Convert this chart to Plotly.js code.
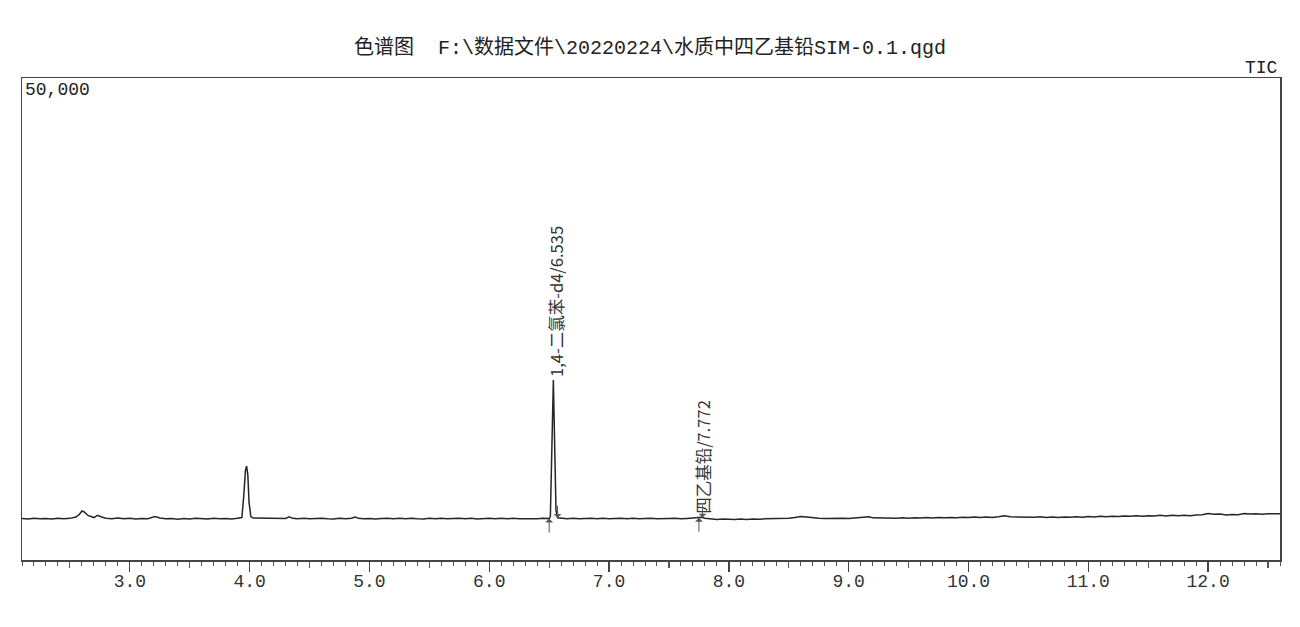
<!DOCTYPE html>
<html>
<head>
<meta charset="utf-8">
<script src="https://cdn.plot.ly/plotly-3.0.1.min.js"></script>
<style>html,body{margin:0;padding:0;background:#fff;}#chart{width:1300px;height:627px;}</style>
</head>
<body>
<div id="chart"></div>
<script>
// Retention time (min)
const times = [
2.10,2.15,2.20,2.25,2.30,2.35,2.40,2.45,2.50,2.55,2.58,2.60,2.62,2.65,2.70,2.73,2.76,2.80,2.85,2.90,2.95,
3.00,3.05,3.10,3.15,3.21,3.25,3.30,3.35,3.40,3.45,3.50,3.55,3.60,3.65,3.70,3.75,3.80,3.85,3.90,3.935,3.95,3.965,3.975,3.985,3.995,4.01,4.03,
4.06,4.10,4.15,4.20,4.25,4.30,4.33,4.36,4.40,4.45,4.50,4.55,4.60,4.65,4.70,4.75,4.80,4.85,4.88,4.91,4.95,
5.00,5.05,5.10,5.15,5.20,5.25,5.30,5.35,5.40,5.45,5.50,5.55,5.60,5.65,5.70,5.75,5.80,5.85,5.90,5.95,
6.00,6.05,6.10,6.15,6.20,6.25,6.30,6.35,6.40,6.45,6.50,6.51,6.522,6.535,6.545,6.557,6.57,6.60,6.65,6.70,6.75,6.80,6.85,6.90,6.95,
7.00,7.05,7.10,7.15,7.20,7.25,7.30,7.35,7.40,7.45,7.50,7.55,7.60,7.65,7.70,7.75,7.772,7.80,7.85,7.90,7.95,
8.00,8.05,8.10,8.15,8.20,8.25,8.30,8.35,8.40,8.45,8.50,8.55,8.60,8.65,8.70,8.75,8.80,8.85,8.90,8.95,
9.00,9.05,9.10,9.15,9.17,9.20,9.25,9.30,9.35,9.40,9.45,9.50,9.55,9.60,9.65,9.70,9.75,9.80,9.85,9.90,9.95,
10.00,10.05,10.10,10.15,10.20,10.25,10.30,10.35,10.40,10.45,10.50,10.55,10.60,10.65,10.70,10.75,10.80,10.85,10.90,10.95,
11.00,11.05,11.10,11.15,11.20,11.25,11.30,11.35,11.40,11.45,11.50,11.55,11.60,11.65,11.70,11.75,11.80,11.85,11.90,11.95,
12.00,12.05,12.10,12.15,12.20,12.25,12.30,12.35,12.40,12.45,12.50,12.55,12.60
];
// TIC intensity
const intensity = [
4310,4260,4340,4280,4310,4250,4330,4280,4320,4450,4750,5080,4980,4620,4400,4640,4480,4330,4290,4350,4270,
4320,4260,4310,4280,4500,4360,4290,4300,4240,4310,4260,4320,4280,4250,4330,4270,4310,4260,4340,4400,6500,9300,9750,8800,6000,4500,4350,
4340,4290,4330,4270,4310,4300,4480,4320,4280,4320,4270,4310,4330,4280,4260,4320,4280,4340,4450,4320,4270,
4310,4250,4300,4330,4270,4320,4280,4340,4290,4260,4320,4280,4330,4270,4310,4340,4280,4320,4260,4310,
4330,4270,4320,4280,4340,4290,4270,4320,4280,4330,4300,4500,11500,18670,12500,5200,4380,4330,4280,4320,4270,4310,4340,4280,4320,
4270,4310,4330,4280,4320,4270,4310,4340,4280,4260,4310,4330,4270,4310,4340,4380,4430,4330,4250,4210,4260,
4220,4200,4250,4210,4260,4220,4270,4280,4260,4310,4340,4420,4520,4450,4360,4320,4300,4330,4290,4340,
4300,4340,4360,4400,4480,4370,4360,4320,4370,4330,4380,4340,4390,4350,4400,4360,4410,4370,4420,4390,4440,
4400,4450,4410,4460,4420,4490,4580,4480,4460,4420,4470,4430,4480,4420,4460,4410,4470,4440,4490,4430,
4510,4470,4540,4490,4550,4510,4570,4530,4590,4540,4600,4560,4630,4570,4640,4590,4650,4600,4670,4700,
4820,4740,4760,4680,4720,4700,4810,4760,4790,4740,4800,4760,4790
];
// Identified peaks
const peakLabels = ['1,4-二氯苯-d4/6.535', '四乙基铅/7.772'];
const peakRT = [6.535, 7.772];
const peakStart = [6.50, 7.75];
const peakEnd = [6.57, 7.78];

const FONT = '"Liberation Mono", "Noto Sans CJK SC", monospace';

function valueAt(t) {
  for (let i = 0; i < times.length - 1; i++) {
    if (t >= times[i] && t <= times[i + 1]) {
      const f = (t - times[i]) / (times[i + 1] - times[i]);
      return intensity[i] + f * (intensity[i + 1] - intensity[i]);
    }
  }
  return intensity[intensity.length - 1];
}

const traces = [
  {x: times, y: intensity, type: 'scatter', mode: 'lines',
   line: {color: '#262626', width: 1.5}, hoverinfo: 'skip', showlegend: false},
  {x: times, y: intensity, type: 'scatter', mode: 'lines', xaxis: 'x2',
   line: {color: 'rgba(0,0,0,0)', width: 0}, hoverinfo: 'skip', showlegend: false}
];

const annotations = [
  {xref: 'paper', yref: 'paper', x: 0, y: 1, xanchor: 'left', yanchor: 'top',
   text: '50,000', showarrow: false, xshift: 1, yshift: 0,
   font: {family: FONT, size: 18, color: '#222'}},
  {xref: 'paper', yref: 'paper', x: 1, y: 1, xanchor: 'right', yanchor: 'bottom',
   text: 'TIC', showarrow: false, yshift: -2,
   font: {family: FONT, size: 18, color: '#222'}}
];

peakLabels.forEach((lab, i) => {
  const rt = peakRT[i];
  annotations.push({
    x: rt, y: valueAt(rt), xref: 'x', yref: 'y', text: lab, textangle: -90,
    showarrow: false, xanchor: 'center', yanchor: 'bottom', xshift: 2, yshift: 1,
    font: {family: '"Liberation Sans Narrow", "Noto Sans CJK SC", sans-serif', size: 16.5, color: '#333'}
  });
  annotations.push({
    x: peakStart[i], y: valueAt(peakStart[i]), xref: 'x', yref: 'y', text: ' ',
    showarrow: true, ax: 0, ay: 16, arrowhead: 1, arrowsize: 1.3, arrowwidth: 1,
    arrowcolor: '#555', standoff: 0, font: {size: 1}
  });
  annotations.push({
    x: peakEnd[i], y: valueAt(peakEnd[i]), xref: 'x', yref: 'y', text: ' ',
    showarrow: true, ax: 0, ay: -14, arrowhead: 1, arrowsize: 1.3, arrowwidth: 1,
    arrowcolor: '#555', standoff: 0, font: {size: 1}
  });
});

const layout = {
  width: 1300, height: 627,
  margin: {l: 22, r: 20, t: 78, b: 67, pad: 0},
  paper_bgcolor: '#fff', plot_bgcolor: '#fff',
  title: {text: '色谱图\u00a0\u00a0F:\\数据文件\\20220224\\水质中四乙基铅SIM-0.1.qgd',
          x: 0.5, xanchor: 'center', y: 1 - 47 / 627, yanchor: 'middle', yref: 'container',
          font: {family: FONT, size: 20, color: '#222'}},
  xaxis: {range: [2.1, 12.6], showgrid: false, zeroline: false,
          showline: true, mirror: true, linecolor: '#444', linewidth: 1.5,
          ticks: 'outside', ticklen: 10, tickwidth: 1.3, tickcolor: '#444',
          tick0: 0, dtick: 1, tickformat: '.1f', ticklabelstandoff: -6,
          minor: {dtick: 0.1, tick0: 0, ticks: 'outside', ticklen: 4, tickwidth: 1, tickcolor: '#555', showgrid: false},
          tickfont: {family: FONT, size: 18, color: '#333'}},
  xaxis2: {range: [2.1, 12.6], overlaying: 'x', anchor: 'y', side: 'bottom',
           showgrid: false, zeroline: false, showline: false,
           ticks: 'outside', ticklen: 7, tickwidth: 1.1, tickcolor: '#555',
           tick0: 0.5, dtick: 1, showticklabels: false},
  yaxis: {range: [0, 50000], showgrid: false, zeroline: false, showticklabels: false,
          ticks: '', showline: true, mirror: true, linecolor: '#444', linewidth: 1.5},
  annotations: annotations,
  showlegend: false
};

Plotly.newPlot('chart', traces, layout, {displayModeBar: false, staticPlot: true});
</script>
</body>
</html>
